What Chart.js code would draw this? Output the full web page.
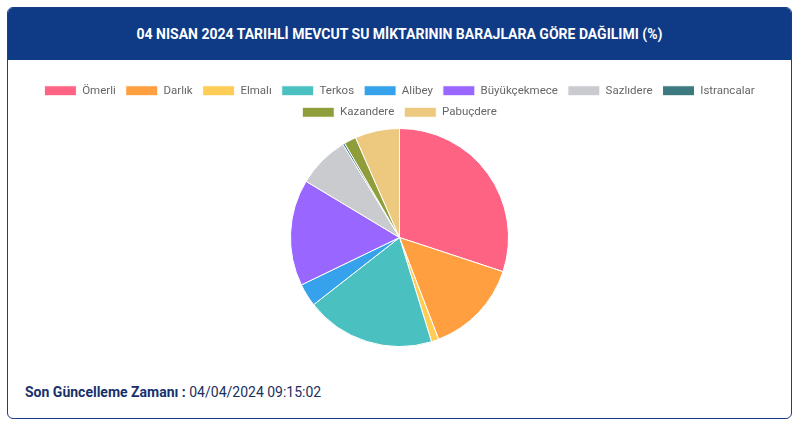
<!DOCTYPE html>
<html><head><meta charset="utf-8">
<script src="https://cdn.jsdelivr.net/npm/chart.js@4"></script>
<style>
body{margin:0;background:#fff;font-family:Roboto,"Noto Sans",sans-serif;}
.card{position:absolute;left:7px;top:7px;width:785px;height:412px;border:1px solid #1b3c86;border-radius:6px;overflow:hidden;box-sizing:border-box;}
.hdr{height:52px;background:#0e3a86;color:#fff;font-weight:bold;font-size:14px;text-align:center;line-height:52px;}
.wrap{position:absolute;left:0;top:67px;width:783px;height:272px;}
.foot{position:absolute;left:17px;top:376px;font-size:14px;color:#1b2f5e;}
.foot b{font-weight:bold;color:#17306b;}
</style></head><body>
<div class="card">
<div class="hdr">04 NISAN 2024 TARIHLİ MEVCUT SU MİKTARININ BARAJLARA GÖRE DAĞILIMI (%)</div>
<div class="wrap"><canvas id="c"></canvas></div>
<div class="foot"><b>Son Güncelleme Zamanı :</b> 04/04/2024 09:15:02</div>
</div>
<script>
const categories=["Ömerli","Darlık","Elmalı","Terkos","Alibey","Büyükçekmece","Sazlıdere","Istrancalar","Kazandere","Pabuçdere"];
const values=[30.1,14.1,1.1,19.2,3.4,15.8,7.7,0.3,1.8,6.6];
const colors=["#ff6384","#ff9f40","#ffcd56","#4bc0c0","#36a2eb","#9966ff","#c9cbcf","#3d7a80","#8f9e3a","#ecc97f"];
new Chart(document.getElementById('c'),{type:'pie',
data:{labels:categories,datasets:[{data:values,backgroundColor:colors,borderColor:'#fff',borderWidth:1}]},
options:{responsive:true,maintainAspectRatio:false,animation:false,
plugins:{legend:{position:'top',labels:{boxWidth:32,boxHeight:10,font:{size:11.5,family:'Roboto'},color:'#666'}},tooltip:{enabled:false}}}});
</script></body></html>
